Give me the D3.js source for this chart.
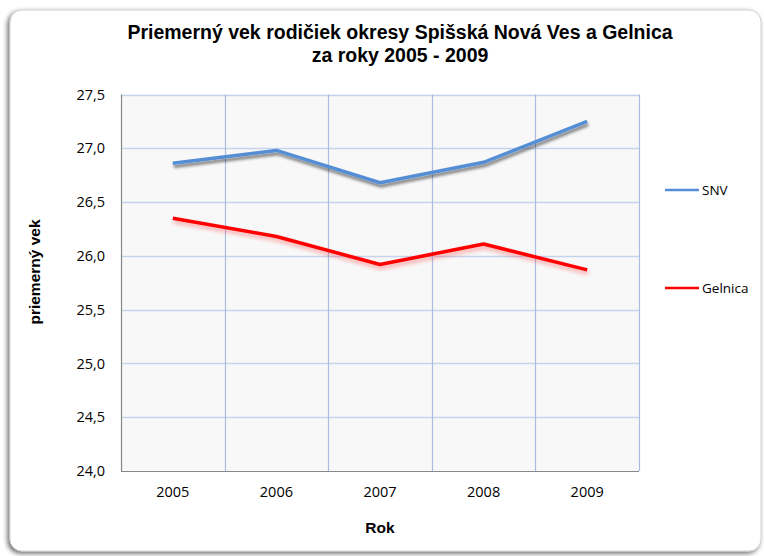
<!DOCTYPE html>
<html><head><meta charset="utf-8">
<script src="https://cdn.jsdelivr.net/npm/d3@7"></script>
<style>body{margin:0;background:#fff}svg{display:block}</style>
</head><body>
<script>
const years = ["2005","2006","2007","2008","2009"];
const snv = [26.86, 26.98, 26.68, 26.87, 27.25];
const gelnica = [26.35, 26.18, 25.92, 26.11, 25.87];
const seriesNames = ["SNV","Gelnica"];
const seriesColors = ["#558ed5","#ff0000"];
const yTicks = [24.0,24.5,25.0,25.5,26.0,26.5,27.0,27.5];

const W=764,H=556;
const svg=d3.select("body").append("svg").attr("width",W).attr("height",H);
const defs=svg.append("defs");
const fs=defs.append("filter").attr("id","frameShadow").attr("x","-5%").attr("y","-5%").attr("width","110%").attr("height","110%");
fs.append("feGaussianBlur").attr("in","SourceAlpha").attr("stdDeviation",2.5);
fs.append("feOffset").attr("dx",-2).attr("dy",2).attr("result","b");
fs.append("feComponentTransfer").append("feFuncA").attr("type","linear").attr("slope",0.6);
const fm=fs.append("feMerge");fm.append("feMergeNode");fm.append("feMergeNode").attr("in","SourceGraphic");

const ls=defs.append("filter").attr("id","lineShadow").attr("x","-10%").attr("y","-30%").attr("width","120%").attr("height","160%");
ls.append("feGaussianBlur").attr("in","SourceAlpha").attr("stdDeviation",1.5);
ls.append("feOffset").attr("dx",1).attr("dy",2.5).attr("result","b");
ls.append("feComponentTransfer").append("feFuncA").attr("type","linear").attr("slope",0.5);
const lm=ls.append("feMerge");lm.append("feMergeNode");lm.append("feMergeNode").attr("in","SourceGraphic");

const gl=defs.append("filter").attr("id","redGlow").attr("x","-10%").attr("y","-30%").attr("width","120%").attr("height","160%");
gl.append("feGaussianBlur").attr("in","SourceGraphic").attr("stdDeviation",2);
gl.append("feOffset").attr("dx",1).attr("dy",2.5).attr("result","b");
gl.append("feComponentTransfer").append("feFuncA").attr("type","linear").attr("slope",0.35);
const gm=gl.append("feMerge");gm.append("feMergeNode");gm.append("feMergeNode").attr("in","SourceGraphic");

svg.append("rect").attr("x",10).attr("y",10).attr("width",751).attr("height",541).attr("rx",12)
  .attr("fill","#fff").attr("stroke","#d0d0d0").attr("stroke-width",1).attr("filter","url(#frameShadow)");

const L=121,R=639,T=94.5,B=471;
const x=d3.scaleBand().domain(years).range([L,R]);
const y=d3.scaleLinear().domain([24,27.5]).range([B,T]);

svg.append("rect").attr("x",L).attr("y",T).attr("width",R-L).attr("height",B-T).attr("fill","#f8f8f8");

svg.append("g").selectAll("line").data(yTicks.slice(1)).join("line")
  .attr("x1",L).attr("x2",R).attr("y1",d=>Math.round(y(d))+0.5).attr("y2",d=>Math.round(y(d))+0.5)
  .attr("stroke","#c5d3ee").attr("stroke-width",1.5);
svg.append("g").selectAll("line").data(years.slice(1).concat(["end"])).join("line")
  .attr("x1",(d,i)=>i<years.length-1?Math.round(x(d))+0.5:R+0.5)
  .attr("x2",(d,i)=>i<years.length-1?Math.round(x(d))+0.5:R+0.5)
  .attr("y1",T).attr("y2",B).attr("stroke","#a9bde0").attr("stroke-width",1.2);

const tickFont="Open Sans, Liberation Sans, sans-serif";
const yAxis=svg.append("g").attr("transform",`translate(${L},0)`)
  .call(d3.axisLeft(y).tickValues(yTicks).tickSize(0).tickPadding(0).tickFormat(d=>d3.format(".1f")(d).replace(".",",")));
yAxis.select(".domain").remove();
yAxis.selectAll("text").attr("x",-16).attr("font-family",tickFont).attr("font-size",14.5).attr("fill","#000");
svg.append("line").attr("x1",L+0.5).attr("x2",L+0.5).attr("y1",T).attr("y2",B).attr("stroke","#888").attr("stroke-width",1.2);

const xAxis=svg.append("g").attr("transform",`translate(0,${B})`)
  .call(d3.axisBottom(x).tickSize(0).tickPadding(16));
xAxis.select(".domain").remove();
xAxis.selectAll("text").attr("font-family",tickFont).attr("font-size",14.5).attr("fill","#000");
svg.append("line").attr("x1",L).attr("x2",R).attr("y1",B+0.5).attr("y2",B+0.5).attr("stroke","#888").attr("stroke-width",1.2);

const line=d3.line().x((d,i)=>x(years[i])+x.bandwidth()/2).y(d=>y(d));
const data=[snv,gelnica];
data.forEach((s,k)=>{
  svg.append("path").datum(s).attr("d",line).attr("fill","none")
    .attr("stroke",seriesColors[k]).attr("stroke-width",3.5).attr("stroke-linejoin","round")
    .attr("filter",k===0?"url(#lineShadow)":"url(#redGlow)");
});

const legY=[190,288];
seriesNames.forEach((n,k)=>{
  svg.append("line").attr("x1",665).attr("x2",699).attr("y1",legY[k]).attr("y2",legY[k])
    .attr("stroke",seriesColors[k]).attr("stroke-width",2.5);
  svg.append("text").attr("x",702).attr("y",legY[k]+5).text(n)
    .attr("font-family",tickFont).attr("font-size",13.5).attr("fill","#000");
});

const titleFont="Liberation Sans, Arial, sans-serif";
svg.append("text").attr("x",400).attr("y",39).attr("text-anchor","middle")
  .attr("font-family",titleFont).attr("font-weight","bold").attr("font-size",19.5)
  .text("Priemerný vek rodičiek okresy Spišská Nová Ves a Gelnica");
svg.append("text").attr("x",400).attr("y",62).attr("text-anchor","middle")
  .attr("font-family",titleFont).attr("font-weight","bold").attr("font-size",19.5)
  .text("za roky 2005 - 2009");
svg.append("text").attr("x",380).attr("y",533).attr("text-anchor","middle")
  .attr("font-family",titleFont).attr("font-weight","bold").attr("font-size",15.5)
  .text("Rok");
svg.append("text").attr("transform","translate(40,272) rotate(-90)").attr("text-anchor","middle")
  .attr("font-family",titleFont).attr("font-weight","bold").attr("font-size",15.5)
  .text("priemerný vek");
</script>
</body></html>
